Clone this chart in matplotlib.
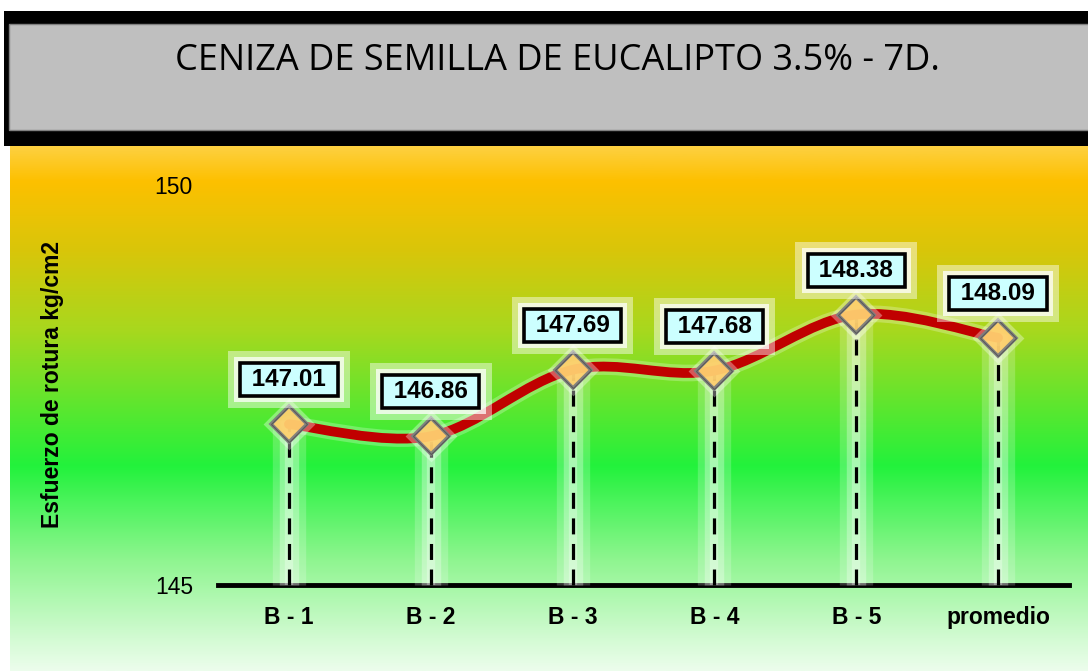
import numpy as np
import matplotlib
matplotlib.use("Agg")
import matplotlib.pyplot as plt
from matplotlib.colors import LinearSegmentedColormap
from matplotlib.patches import Rectangle, PathPatch
from matplotlib.path import Path

# data
categories = ["B - 1", "B - 2", "B - 3", "B - 4", "B - 5", "promedio"]
values = [147.01, 146.86, 147.69, 147.68, 148.38, 148.09]
y_ticks = [145, 150]
title = "CENIZA DE SEMILLA DE EUCALIPTO 3.5% - 7D."
y_label = "Esfuerzo de rotura kg/cm2"

W, H = 1088, 671
fig = plt.figure(figsize=(W / 100, H / 100), dpi=100)
fig.patch.set_facecolor("white")

# background: header + vertical gradient, in pixel coords
bg = fig.add_axes([0, 0, 1, 1])
bg.set_xlim(0, W)
bg.set_ylim(H, 0)
bg.axis("off")
grad = LinearSegmentedColormap.from_list("bg", [
    (0.0, "#fdd040"), (0.065, "#fdc000"), (0.20, "#d8c60a"),
    (0.35, "#a8d81e"), (0.61, "#22f23c"), (0.79, "#8ff590"),
    (0.94, "#d3fbd3"), (1.0, "#ecfdec")])
bg.imshow(np.linspace(0, 1, 256)[:, None], cmap=grad, aspect="auto",
          extent=(10, W, H, 146), zorder=0)
bg.add_patch(Rectangle((4, 11), W, 135, fc="black", ec="none", zorder=1))
bg.add_patch(Rectangle((9, 24), W, 106, fc="#bfbfbf", ec="#808080", lw=1, zorder=2))
t = bg.text(557, 61, title, ha="center", va="center", family="Open Sans",
            fontsize=30, color="black", zorder=3)
fig.canvas.draw()
w = t.get_window_extent().width
t.set_fontsize(30 * 765 / w)

# main axes: 145 -> y=585px, 150 -> y=185px; categories at 289..997px
ax = fig.add_axes([218 / W, 1 - 585 / H, (1069 - 218) / W, 400 / H])
ax.set_facecolor("none")
ax.set_xlim(-0.5, len(categories) - 0.5)
ax.set_ylim(145, 150)
for s in ax.spines.values():
    s.set_visible(False)
ax.set_yticks(y_ticks)
ax.set_yticklabels([str(v) for v in y_ticks], fontsize=16.5, family="Liberation Sans")
ax.set_xticks(range(len(categories)))
ax.set_xticklabels(categories, fontsize=16.5, fontweight="bold", family="Liberation Sans")
ax.tick_params(axis="y", length=0, pad=18)
ax.tick_params(axis="x", length=0, pad=15)
ax.set_ylabel(y_label, fontsize=16.5, fontweight="bold", family="Liberation Sans",
              labelpad=65)
ax.axhline(145, color="black", lw=3.5, zorder=2, clip_on=False)

x = np.arange(len(values))
y = np.array(values)

# glow bands behind the drop lines
for xi, yi in zip(x, y):
    for lw, a in [(24, 0.2), (14, 0.3), (6, 0.3)]:
        ax.plot([xi, xi], [145, yi + 0.05], color="white", lw=lw, alpha=a,
                solid_capstyle="butt", zorder=3, clip_on=False)
    ax.plot([xi, xi], [145, yi], color="black", lw=2.3, dashes=(5, 3),
            zorder=4, clip_on=False)

# smooth line (Bezier through points, Excel-style)
verts = [(x[0], y[0])]
codes = [Path.MOVETO]
n = len(x)
for i in range(n - 1):
    p0 = np.array([x[max(i - 1, 0)], y[max(i - 1, 0)]])
    p1 = np.array([x[i], y[i]])
    p2 = np.array([x[i + 1], y[i + 1]])
    p3 = np.array([x[min(i + 2, n - 1)], y[min(i + 2, n - 1)]])
    c1 = p1 + (p2 - p0) / 6
    c2 = p2 - (p3 - p1) / 6
    verts += [tuple(c1), tuple(c2), tuple(p2)]
    codes += [Path.CURVE4] * 3
curve = Path(verts, codes)
ax.add_patch(PathPatch(curve, fc="none", ec="white", lw=12, alpha=0.25, zorder=5,
                       capstyle="round"))
ax.add_patch(PathPatch(curve, fc="none", ec="#c00000", lw=7, zorder=6,
                       capstyle="round"))

ax.plot(x, y, ls="none", marker="D", ms=21, mfc="none", mec="white", mew=5,
        alpha=0.35, zorder=7, clip_on=False)
ax.plot(x, y, ls="none", marker="D", ms=18, mfc="#ffd070", mec="#7f7f7f", mew=2.6,
        alpha=0.95, zorder=8, clip_on=False)
ax.plot(x, y, ls="none", marker="D", ms=18, mfc="none", mec="#5a5a5a", mew=0.8,
        zorder=8, clip_on=False)

# value labels
for xi, yi in zip(x, y):
    txt = f" {yi:.2f} "
    for pad, a in [(0.7, 0.45), (0.45, 0.75)]:
        ax.annotate(txt, (xi, yi), xytext=(0, 32), textcoords="offset points",
                    ha="center", va="center", fontsize=17.5, fontweight="bold",
                    family="Liberation Sans", color="none", zorder=9,
                    bbox=dict(boxstyle=f"square,pad={pad}", fc="white", ec="none",
                              alpha=a))
    ax.annotate(txt, (xi, yi), xytext=(0, 32), textcoords="offset points",
                ha="center", va="center", fontsize=17.5, fontweight="bold",
                family="Liberation Sans", color="black", zorder=10,
                bbox=dict(boxstyle="square,pad=0.2", fc="#ccffff", ec="black",
                          lw=2.6))

fig.savefig("out.png", dpi=100)
